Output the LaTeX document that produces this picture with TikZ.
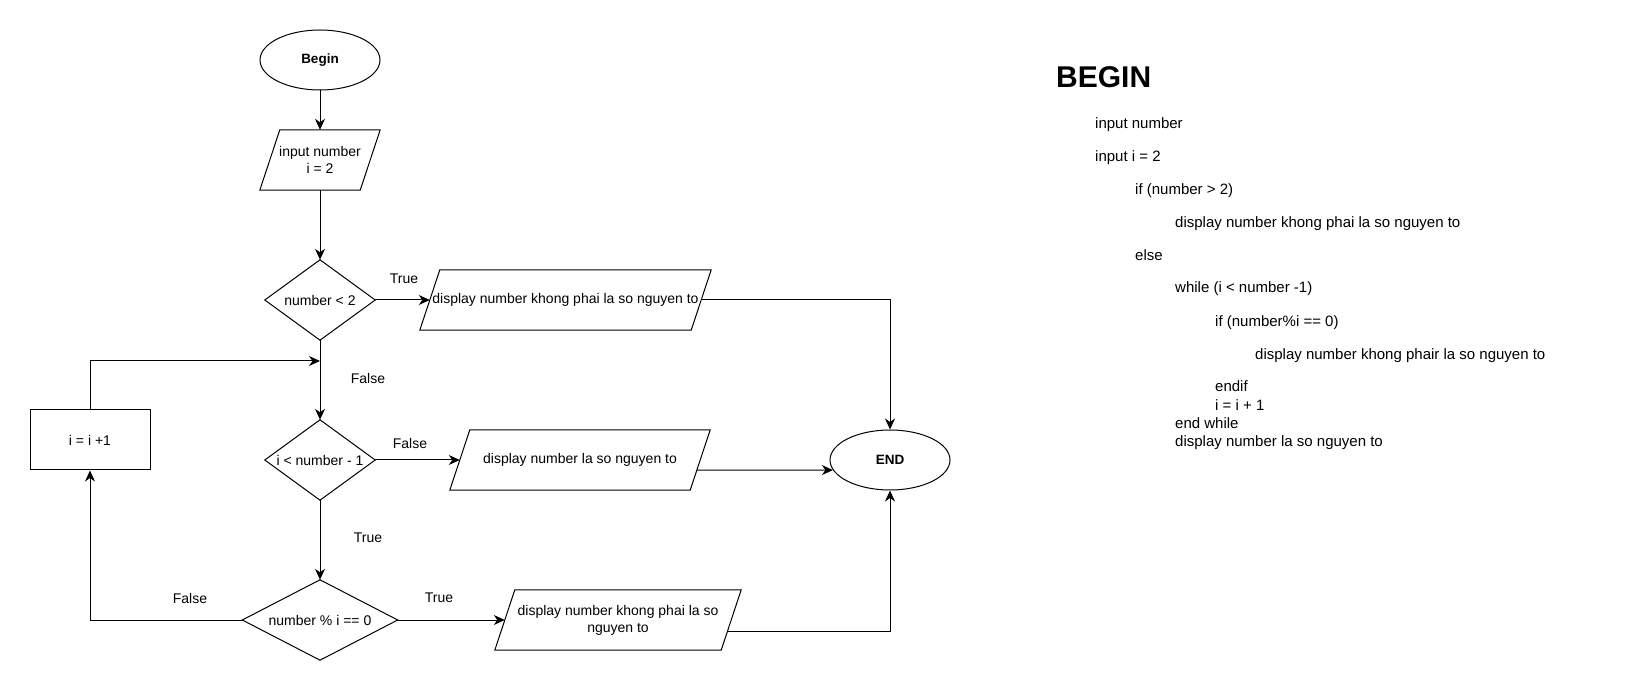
\documentclass[tikz,border=0pt]{standalone}
\usepackage{fontspec}
\setmainfont{Liberation Sans}
\usetikzlibrary{arrows.meta,calc,shapes.geometric}
\tikzset{
  base/.style={font=\fontsize{14}{17}\selectfont, align=center, inner sep=0pt},
  term/.style={base, draw, ellipse, minimum width=120pt, minimum height=60pt, line width=1pt, font=\fontsize{13.5}{16}\selectfont\bfseries},
  procbox/.style={base, draw, line width=1pt, minimum width=120pt, minimum height=60pt},
  iobox/.style={base, minimum height=60pt},
  decbox/.style={base, minimum width=110pt, minimum height=80pt},
  lbl/.style={font=\fontsize{14}{17}\selectfont, inner sep=0pt},
  code/.style={font=\fontsize{15}{18}\selectfont, anchor=base west, inner sep=0pt},
  flow/.style={line width=1pt, -{Stealth[length=11pt,width=10pt,inset=3.5pt]}},
  outline/.style={draw, line width=1pt},
}
\begin{document}
\begin{tikzpicture}[x=1pt,y=-1pt]
\useasboundingbox (0,0) rectangle (1642,692);
% flowchart nodes
\node[term] (begin) at (320,60) {Begin};
\node[iobox, minimum width=100pt] (input) at (320,160) {input number\\i = 2};
\node[decbox] (d1) at (320,300) {number < 2};
\node[iobox, minimum width=271pt] (disp1) at (565.5,300) {display number khong phai la so nguyen to};
\node[decbox] (d2) at (320,460) {i < number - 1};
\node[iobox, minimum width=240pt] (disp2) at (580,460) {display number la so nguyen to};
\node[decbox, minimum width=155pt] (d3) at (320,620) {number \% i == 0};
\node[iobox, minimum width=226pt] (disp3) at (618,620) {display number khong phai la so\\nguyen to};
\node[procbox] (inc) at (90,440) {i = i +1};
\node[term] (end) at (890,460) {END};
% outlines
\foreach \n in {input,disp1,disp2,disp3}
  \draw[outline] ([xshift=-10pt]\n.south west) -- ([xshift=10pt]\n.north west) -- ([xshift=10pt]\n.north east) -- ([xshift=-10pt]\n.south east) -- cycle;
\foreach \n in {d1,d2,d3}
  \draw[outline] (\n.north) -- (\n.east) -- (\n.south) -- (\n.west) -- cycle;
% connectors
\draw[flow] (begin.south) -- (input.north);
\draw[flow] (input.south) -- (d1.north);
\draw[flow] (d1.east) -- (disp1.west);
\draw[flow] (d1.south) -- (d2.north);
\draw[flow] (d2.east) -- (disp2.west);
\draw[flow] (d2.south) -- (d3.north);
\draw[flow] (d3.east) -- (disp3.west);
\draw[flow] (d3.west) -| (inc.south);
\coordinate (join) at (320,361);
\draw[flow] (inc.north) |- (join);
\draw[flow] (disp1.east) -| (end.north);
\draw[flow] ([xshift=-3.3pt,yshift=-10pt]disp2.east) -- (end.190);
\draw[flow] ([xshift=-3.7pt,yshift=-11pt]disp3.east) -| (end.south);
% labels
\node[lbl] (l1) at (404,279) {True};
\node[lbl] (l2) at (368,378) {False};
\node[lbl] (l3) at (410,443) {False};
\node[lbl] (l4) at (368,538) {True};
\node[lbl] (l5) at (439,598) {True};
\node[lbl] (l6) at (190,598) {False};
% pseudocode
\node[font=\fontsize{30}{36}\selectfont\bfseries, anchor=base west, inner sep=0pt] (hd) at (1056,88) {BEGIN};
\node[code] (c1) at (1095,129) {input number};
\node[code] (c2) at (1095,162) {input i = 2};
\node[code] (c3) at (1135,195) {if (number > 2)};
\node[code] (c4) at (1175,228) {display number khong phai la so nguyen to};
\node[code] (c5) at (1135,261) {else};
\node[code] (c6) at (1175,293) {while (i < number -1)};
\node[code] (c7) at (1215,327) {if (number\%i == 0)};
\node[code] (c8) at (1255,360) {display number khong phair la so nguyen to};
\node[code] (c9) at (1215,392) {endif};
\node[code] (c10) at (1215,411) {i = i + 1};
\node[code] (c11) at (1175,429) {end while};
\node[code] (c12) at (1175,447) {display number la so nguyen to};
\end{tikzpicture}
\end{document}
